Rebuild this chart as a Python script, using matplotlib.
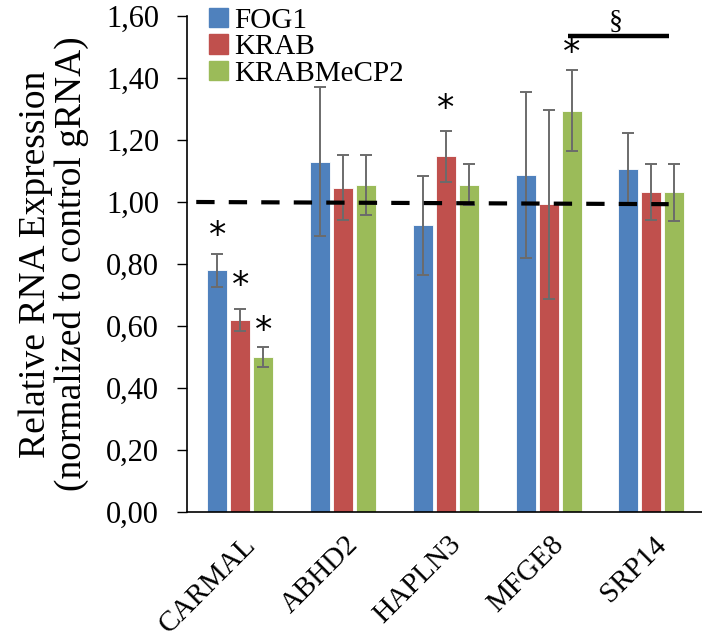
import numpy as np
import matplotlib
matplotlib.use("Agg")
import matplotlib.pyplot as plt
from matplotlib.patches import Patch

# -----------------------------
# Data
# -----------------------------
genes = ["CARMAL", "ABHD2", "HAPLN3", "MFGE8", "SRP14"]
series = ["FOG1", "KRAB", "KRABMeCP2"]
colors = ["#4F81BD", "#C0504D", "#9BBB59"]

fog1 = [0.78, 1.13, 0.925, 1.087, 1.108]
fog1_err = [0.053, 0.24, 0.16, 0.268, 0.113]
krab = [0.62, 1.046, 1.147, 0.992, 1.031]
krab_err = [0.035, 0.105, 0.083, 0.305, 0.09]
krabmecp2 = [0.50, 1.054, 1.056, 1.295, 1.031]
krabmecp2_err = [0.032, 0.097, 0.065, 0.13, 0.093]

# significance stars: (gene index, series index, y)
stars = [(0, 0, 0.89), (0, 1, 0.73), (0, 2, 0.585), (2, 1, 1.30), (3, 2, 1.48)]

plt.rcParams["font.family"] = ["Liberation Serif", "DejaVu Serif"]

# -----------------------------
# Plot
# -----------------------------
fig = plt.figure(figsize=(7.02, 6.39), dpi=100)
ax = fig.add_axes([0.2664, 0.1987, 0.733, 0.7763])

x = np.arange(len(genes))
step = 0.224
width = 0.195
values = [fog1, krab, krabmecp2]
errors = [fog1_err, krab_err, krabmecp2_err]

for i in range(3):
    ax.bar(x + (i - 1) * step, values[i], width, color=colors[i],
           edgecolor="white", linewidth=0.6, zorder=2)
    ax.errorbar(x + (i - 1) * step, values[i], yerr=errors[i], fmt="none",
                ecolor="#6b6b6b", elinewidth=1.4, capsize=4.5, capthick=1.4,
                zorder=3)

# reference line at 1.0
ax.plot([-0.43, 4.17], [1.0, 0.993], color="black", linestyle=(0, (4.4, 3.4)),
        linewidth=3, zorder=4)

for g, s, yv in stars:
    ax.text(g + (s - 1) * step, yv, "*", ha="center", va="center",
            fontsize=25, family="DejaVu Sans", zorder=5)

# section bar over MFGE8 / SRP14
ax.plot([3.19, 4.17], [1.535, 1.535], color="black", linewidth=3.2,
        solid_capstyle="butt", zorder=4)
ax.text(3.65, 1.578, "§", ha="center", va="center", fontsize=20)

ax.set_xlim(-0.52, 4.49)
ax.set_ylim(0, 1.6)
ax.set_yticks(np.arange(0, 1.61, 0.2))
ax.set_yticklabels([f"{v:.2f}".replace(".", ",") for v in np.arange(0, 1.61, 0.2)],
                   fontsize=22)
ax.set_xticks(x + 0.02)
ax.set_xticklabels(genes, rotation=45, ha="right", va="top",
                   rotation_mode="anchor", fontsize=21)
ax.tick_params(axis="x", length=0, pad=14)
ax.tick_params(axis="y", direction="out", length=7, width=1, pad=13)

for side in ["top", "right"]:
    ax.spines[side].set_visible(False)
ax.spines["left"].set_linewidth(1.2)
ax.spines["bottom"].set_linewidth(1.2)

ax.set_ylabel("Relative RNA Expression\n(normalized to control gRNA)",
              fontsize=27, linespacing=1.05, labelpad=12)

handles = [Patch(color=c, label=s) for c, s in zip(colors, series)]
ax.legend(handles=handles, loc="upper left", bbox_to_anchor=(0.02, 1.04),
          frameon=False, fontsize=21, handlelength=0.65, handleheight=0.65,
          handletextpad=0.2, labelspacing=0.02, borderaxespad=0)

plt.savefig("out.png", dpi=100)
